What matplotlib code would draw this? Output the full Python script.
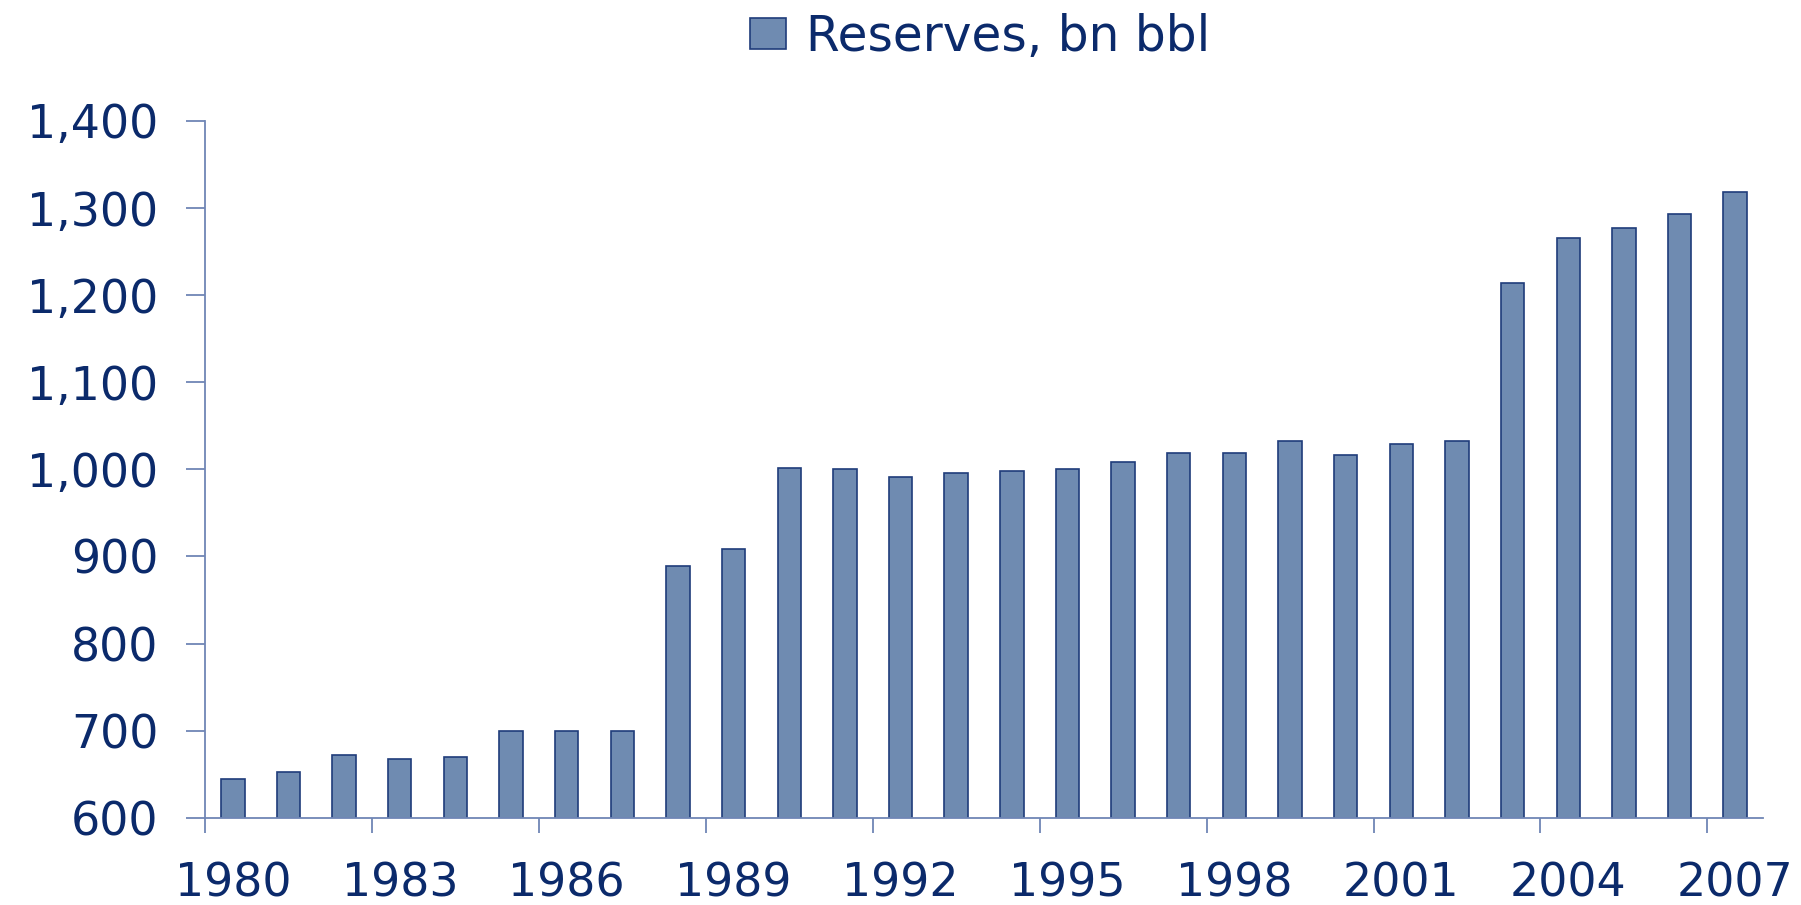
import numpy as np
import matplotlib
matplotlib.use('Agg')
import matplotlib.pyplot as plt

years = list(range(1980, 2008))
reserves = [644, 652, 672, 667, 670, 700, 700, 700, 889, 908,
            1002, 1000, 991, 996, 998, 1000, 1009, 1019, 1019, 1033,
            1017, 1029, 1033, 1214, 1266, 1277, 1293, 1318]
series_name = 'Reserves, bn bbl'
y_ticks = [600, 700, 800, 900, 1000, 1100, 1200, 1300, 1400]
label_step = 3

text_col = '#0b2a6b'
bar_col = '#6f8bb1'
edge_col = '#1f3c7a'
axis_col = '#6f86b5'

plt.rcParams['font.family'] = ['DejaVu Sans']

fig = plt.figure(figsize=(18.01, 9.05), dpi=100)
ax = fig.add_axes([205 / 1801, 87.3 / 905, (1763 - 205) / 1801, (817.7 - 121) / 905])

x = np.arange(len(years))
bars = ax.bar(x, reserves, width=0.42, color=bar_col, edgecolor=edge_col,
              linewidth=1.2, label=series_name, zorder=2)

ax.set_ylim(600, 1400)
ax.set_xlim(-0.5, len(years) - 0.5)

ax.set_yticks(y_ticks)
ax.set_yticklabels(['{:,}'.format(v) for v in y_ticks])

# ticks on category boundaries, labels under the categories
ax.set_xticks(x[::label_step] - 0.5)
ax.set_xticklabels([])
ax.set_xticks(x[::label_step], minor=True)
ax.set_xticklabels([str(years[i]) for i in x[::label_step]], minor=True)

ax.tick_params(axis='y', which='major', direction='out', length=13.5, width=1.3,
               color=axis_col, labelcolor=text_col, labelsize=33, pad=20)
ax.tick_params(axis='x', which='major', direction='out', length=11, width=1.3,
               color=axis_col)
ax.tick_params(axis='x', which='minor', length=0, labelcolor=text_col,
               labelsize=33, pad=31.5)

for s in ['top', 'right']:
    ax.spines[s].set_visible(False)
for s in ['left', 'bottom']:
    ax.spines[s].set_color(axis_col)
    ax.spines[s].set_linewidth(1.3)

fig.legend(handles=[bars], labels=[series_name], loc='center',
           bbox_to_anchor=(980 / 1801, 1 - 37 / 905), frameon=False,
           fontsize=35, labelcolor=text_col, handlelength=0.74,
           handleheight=0.6, handletextpad=0.4)

fig.savefig('out.png', dpi=100, facecolor='white')
